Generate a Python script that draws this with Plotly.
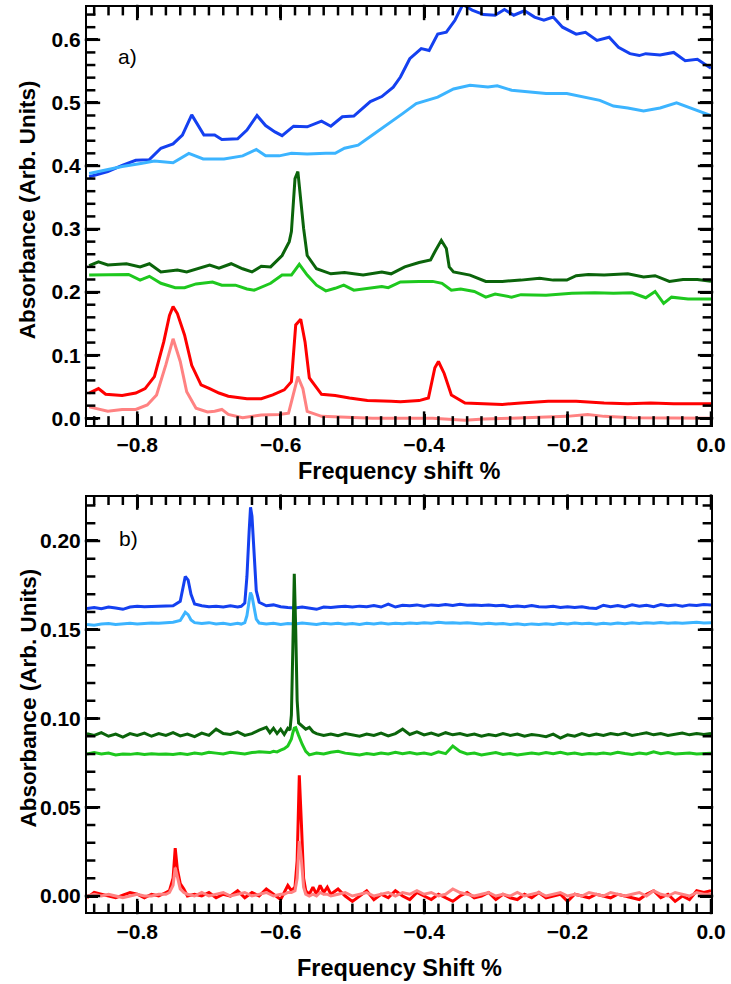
import plotly.graph_objects as go
from plotly.subplots import make_subplots

# ---------------- Panel a) data ----------------
xa_dblue = [-0.867,-0.841,-0.821,-0.802,-0.783,-0.767,-0.750,-0.737,-0.724,-0.707,-0.692,-0.682,-0.660,-0.647,-0.633,-0.621,-0.608,-0.598,-0.582,-0.563,-0.543,-0.530,-0.514,-0.498,-0.475,-0.459,-0.443,-0.433,-0.420,-0.404,-0.393,-0.381,-0.369,-0.357,-0.346,-0.333,-0.317,-0.301,-0.288,-0.275,-0.260,-0.246,-0.233,-0.220,-0.207,-0.188,-0.175,-0.159,-0.142,-0.129,-0.113,-0.100,-0.091,-0.071,-0.052,-0.036,-0.019,0.0]
ya_dblue = [0.383,0.391,0.401,0.409,0.410,0.428,0.435,0.449,0.481,0.449,0.449,0.442,0.443,0.457,0.480,0.464,0.454,0.448,0.463,0.462,0.471,0.463,0.478,0.479,0.502,0.510,0.525,0.541,0.570,0.586,0.583,0.609,0.612,0.631,0.656,0.647,0.640,0.639,0.648,0.639,0.646,0.636,0.631,0.636,0.620,0.609,0.612,0.599,0.604,0.588,0.578,0.575,0.578,0.576,0.580,0.567,0.569,0.555]

xa_lblue = [-0.867,-0.821,-0.795,-0.776,-0.750,-0.728,-0.708,-0.679,-0.653,-0.634,-0.621,-0.602,-0.585,-0.563,-0.537,-0.524,-0.511,-0.492,-0.472,-0.453,-0.430,-0.411,-0.381,-0.359,-0.336,-0.311,-0.298,-0.278,-0.252,-0.230,-0.201,-0.174,-0.155,-0.136,-0.116,-0.094,-0.071,-0.048,-0.026,0.0]
ya_lblue = [0.388,0.399,0.404,0.408,0.405,0.420,0.411,0.411,0.416,0.426,0.416,0.416,0.420,0.419,0.420,0.420,0.428,0.433,0.449,0.464,0.483,0.499,0.509,0.522,0.528,0.525,0.527,0.520,0.517,0.515,0.515,0.509,0.504,0.495,0.492,0.487,0.492,0.500,0.491,0.480]

xa_dgreen = [-0.867,-0.854,-0.841,-0.815,-0.796,-0.783,-0.767,-0.744,-0.731,-0.699,-0.686,-0.669,-0.653,-0.640,-0.627,-0.614,-0.598,-0.588,-0.585,-0.580,-0.576,-0.568,-0.563,-0.550,-0.530,-0.511,-0.485,-0.459,-0.446,-0.427,-0.407,-0.391,-0.385,-0.378,-0.376,-0.369,-0.365,-0.359,-0.336,-0.314,-0.291,-0.265,-0.239,-0.220,-0.201,-0.188,-0.171,-0.149,-0.136,-0.116,-0.094,-0.078,-0.058,-0.039,-0.019,0.0]
ya_dgreen = [0.242,0.248,0.243,0.245,0.240,0.245,0.232,0.235,0.232,0.243,0.238,0.245,0.237,0.232,0.241,0.240,0.258,0.280,0.296,0.380,0.391,0.301,0.258,0.237,0.229,0.231,0.227,0.232,0.229,0.240,0.247,0.251,0.264,0.277,0.282,0.269,0.240,0.232,0.227,0.217,0.217,0.219,0.222,0.219,0.219,0.226,0.228,0.227,0.228,0.229,0.224,0.226,0.217,0.220,0.220,0.217]

xa_lgreen = [-0.867,-0.828,-0.812,-0.796,-0.783,-0.767,-0.747,-0.734,-0.718,-0.695,-0.682,-0.663,-0.647,-0.637,-0.614,-0.598,-0.585,-0.574,-0.563,-0.550,-0.537,-0.524,-0.512,-0.498,-0.479,-0.459,-0.450,-0.433,-0.407,-0.388,-0.375,-0.362,-0.349,-0.330,-0.314,-0.301,-0.278,-0.265,-0.230,-0.194,-0.162,-0.136,-0.110,-0.091,-0.078,-0.066,-0.055,-0.032,0.0]
ya_lgreen = [0.227,0.228,0.228,0.219,0.225,0.214,0.207,0.207,0.213,0.216,0.211,0.211,0.205,0.203,0.214,0.227,0.227,0.244,0.227,0.211,0.202,0.206,0.211,0.203,0.206,0.209,0.207,0.216,0.217,0.217,0.214,0.203,0.205,0.201,0.192,0.197,0.192,0.196,0.195,0.198,0.199,0.198,0.199,0.191,0.201,0.182,0.192,0.189,0.189]

xa_red = [-0.867,-0.854,-0.844,-0.821,-0.802,-0.789,-0.776,-0.763,-0.755,-0.750,-0.744,-0.734,-0.724,-0.711,-0.699,-0.686,-0.673,-0.647,-0.627,-0.611,-0.595,-0.585,-0.579,-0.572,-0.566,-0.560,-0.543,-0.524,-0.504,-0.479,-0.446,-0.433,-0.407,-0.394,-0.385,-0.380,-0.372,-0.362,-0.343,-0.317,-0.291,-0.265,-0.227,-0.188,-0.149,-0.116,-0.084,-0.052,0.0]
ya_red = [0.040,0.047,0.038,0.036,0.040,0.047,0.066,0.121,0.163,0.177,0.166,0.132,0.084,0.053,0.047,0.040,0.035,0.031,0.031,0.037,0.045,0.058,0.148,0.157,0.121,0.064,0.038,0.036,0.032,0.028,0.027,0.026,0.028,0.032,0.080,0.090,0.071,0.037,0.024,0.023,0.022,0.024,0.027,0.027,0.024,0.023,0.024,0.023,0.023]

xa_pink = [-0.867,-0.841,-0.821,-0.802,-0.786,-0.773,-0.760,-0.750,-0.740,-0.731,-0.718,-0.702,-0.692,-0.682,-0.673,-0.653,-0.627,-0.602,-0.589,-0.582,-0.576,-0.569,-0.563,-0.543,-0.504,-0.472,-0.433,-0.388,-0.343,-0.317,-0.278,-0.227,-0.201,-0.172,-0.149,-0.110,-0.071,-0.032,0.0]
ya_pink = [0.018,0.011,0.014,0.014,0.021,0.037,0.085,0.126,0.090,0.042,0.016,0.010,0.011,0.014,0.006,0.001,0.005,0.006,0.008,0.042,0.066,0.047,0.011,0.003,0.001,0.000,0.000,0.000,-0.003,-0.001,0.000,0.002,0.003,0.006,0.003,0.001,0.001,0.001,0.000]

# ---------------- Panel b) data ----------------
xb_blue = [-0.87,-0.86,-0.85,-0.84,-0.83,-0.82,-0.81,-0.80,-0.79,-0.78,-0.77,-0.76,
           -0.75,-0.74,-0.737,-0.733,-0.729,-0.725,-0.72,-0.71,-0.70,-0.69,-0.68,-0.67,-0.66,
           -0.655,-0.65,-0.647,-0.644,-0.642,-0.640,-0.637,-0.634,
           -0.63,-0.62,-0.61,-0.60,-0.59,-0.58,-0.57,-0.56,-0.55,-0.54,
           -0.53,-0.52,-0.51,-0.50,-0.49,-0.48,-0.47,-0.46,-0.45,-0.44,
           -0.43,-0.42,-0.41,-0.40,-0.39,-0.38,-0.37,-0.36,-0.35,-0.34,
           -0.33,-0.32,-0.31,-0.30,-0.29,-0.28,-0.27,-0.26,-0.25,-0.24,
           -0.23,-0.22,-0.21,-0.20,-0.19,-0.18,-0.17,-0.16,-0.15,-0.14,
           -0.13,-0.12,-0.11,-0.10,-0.09,-0.08,-0.07,-0.06,-0.05,-0.04,
           -0.03,-0.02,-0.01,0.00]
yb_dblue = [0.1620,0.1625,0.1618,0.1628,0.1622,0.1615,0.1628,0.1632,0.1630,0.1631,0.1629,0.1632,
            0.1635,0.1660,0.1720,0.1800,0.1780,0.1700,0.1645,0.1635,0.1630,0.1632,0.1628,0.1635,0.1628,
            0.1632,0.1650,0.1800,0.2050,0.2190,0.2140,0.1900,0.1720,
            0.1655,0.1635,0.1640,0.1630,0.1625,0.1622,0.1628,0.1622,0.1615,0.1628,
            0.1625,0.1630,0.1632,0.1628,0.1633,0.1630,0.1637,0.1628,0.1645,0.1628,
            0.1638,0.1635,0.1640,0.1633,0.1640,0.1636,0.1642,0.1637,0.1643,0.1638,
            0.1640,0.1636,0.1640,0.1635,0.1638,0.1630,0.1634,0.1630,0.1636,0.1630,
            0.1628,0.1632,0.1625,0.1630,0.1626,0.1630,0.1622,0.1620,0.1638,0.1630,
            0.1636,0.1628,0.1640,0.1632,0.1638,0.1630,0.1642,0.1635,0.1640,0.1632,
            0.1640,0.1636,0.1642,0.1640]
yb_lblue = [0.1530,0.1525,0.1532,0.1535,0.1530,0.1533,0.1536,0.1532,0.1535,0.1538,0.1536,0.1540,
            0.1542,0.1552,0.1575,0.1598,0.1585,0.1555,0.1540,0.1535,0.1540,0.1532,0.1536,0.1530,0.1537,
            0.1532,0.1540,0.1580,0.1660,0.1710,0.1690,0.1620,0.1560,
            0.1538,0.1532,0.1536,0.1530,0.1535,0.1532,0.1538,0.1533,0.1530,0.1536,
            0.1532,0.1537,0.1531,0.1535,0.1530,0.1536,0.1533,0.1538,0.1532,0.1536,
            0.1534,0.1538,0.1535,0.1540,0.1536,0.1542,0.1538,0.1540,0.1536,0.1539,
            0.1535,0.1533,0.1537,0.1532,0.1535,0.1530,0.1534,0.1528,0.1533,0.1530,
            0.1534,0.1530,0.1536,0.1532,0.1538,0.1534,0.1537,0.1531,0.1536,0.1533,
            0.1538,0.1534,0.1539,0.1535,0.1540,0.1536,0.1541,0.1537,0.1540,0.1536,
            0.1540,0.1542,0.1538,0.1540]

xb_green = [-0.87,-0.86,-0.85,-0.84,-0.83,-0.82,-0.81,-0.80,-0.79,-0.78,-0.77,-0.76,-0.75,
            -0.74,-0.73,-0.72,-0.71,-0.70,-0.69,-0.68,-0.67,-0.66,-0.65,-0.64,-0.63,-0.62,
            -0.615,-0.61,-0.605,-0.60,-0.595,-0.59,-0.587,-0.585,-0.583,-0.581,-0.579,-0.577,-0.575,
            -0.57,-0.565,-0.56,-0.555,-0.55,
            -0.54,-0.53,-0.52,-0.51,-0.50,-0.49,-0.48,-0.47,-0.46,-0.45,
            -0.44,-0.43,-0.42,-0.41,-0.40,-0.39,-0.38,-0.37,-0.36,-0.35,
            -0.34,-0.33,-0.32,-0.31,-0.30,-0.29,-0.28,-0.27,-0.26,-0.25,
            -0.24,-0.23,-0.22,-0.21,-0.20,-0.19,-0.18,-0.17,-0.16,-0.15,
            -0.14,-0.13,-0.12,-0.11,-0.10,-0.09,-0.08,-0.07,-0.06,-0.05,
            -0.04,-0.03,-0.02,-0.01,0.00]
yb_dgreen = [0.0915,0.0905,0.0920,0.0900,0.0912,0.0895,0.0915,0.0905,0.0918,0.0900,0.0915,0.0905,0.0920,
             0.0902,0.0912,0.0898,0.0918,0.0905,0.0940,0.0915,0.0910,0.0925,0.0905,0.0915,0.0935,0.0950,
             0.0920,0.0945,0.0915,0.0940,0.0910,0.0945,0.0935,0.1020,0.1400,0.1815,0.1500,0.1100,0.0975,
             0.0955,0.0940,0.0950,0.0925,0.0915,
             0.0905,0.0912,0.0903,0.0915,0.0908,0.0900,0.0912,0.0905,0.0918,0.0902,
             0.0915,0.0940,0.0910,0.0925,0.0908,0.0918,0.0905,0.0920,0.0908,0.0915,
             0.0905,0.0912,0.0900,0.0910,0.0903,0.0915,0.0905,0.0912,0.0900,0.0910,
             0.0905,0.0898,0.0912,0.0890,0.0908,0.0900,0.0915,0.0903,0.0912,0.0905,
             0.0915,0.0908,0.0918,0.0905,0.0912,0.0920,0.0908,0.0915,0.0905,0.0912,
             0.0918,0.0908,0.0915,0.0910,0.0915]
yb_lgreen = [0.0800,0.0808,0.0800,0.0805,0.0795,0.0800,0.0798,0.0803,0.0797,0.0802,0.0798,0.0800,0.0797,
             0.0803,0.0797,0.0806,0.0800,0.0810,0.0805,0.0800,0.0810,0.0803,0.0800,0.0808,0.0812,0.0810,
             0.0808,0.0815,0.0812,0.0822,0.0830,0.0845,0.0865,0.0885,0.0920,0.0945,0.0948,0.0930,0.0905,
             0.0855,0.0815,0.0795,0.0800,0.0805,
             0.0800,0.0810,0.0815,0.0805,0.0800,0.0795,0.0803,0.0798,0.0806,0.0800,
             0.0810,0.0802,0.0808,0.0800,0.0805,0.0798,0.0812,0.0802,0.0845,0.0815,
             0.0800,0.0805,0.0795,0.0802,0.0808,0.0798,0.0803,0.0795,0.0800,0.0806,
             0.0800,0.0808,0.0802,0.0810,0.0800,0.0805,0.0798,0.0803,0.0800,0.0806,
             0.0800,0.0810,0.0803,0.0798,0.0806,0.0800,0.0812,0.0802,0.0808,0.0800,
             0.0803,0.0806,0.0800,0.0802,0.0805]

xb_red = [-0.87,-0.86,-0.85,-0.84,-0.83,-0.82,-0.81,-0.80,-0.79,-0.78,-0.77,-0.76,
          -0.755,-0.75,-0.747,-0.744,-0.74,-0.735,-0.73,
          -0.72,-0.71,-0.70,-0.69,-0.68,-0.67,-0.66,-0.65,-0.64,-0.63,-0.62,-0.61,-0.60,
          -0.595,-0.59,-0.585,-0.58,-0.577,-0.574,-0.571,-0.568,-0.565,-0.56,-0.555,-0.55,-0.545,-0.54,-0.535,-0.53,
          -0.52,-0.51,-0.50,-0.49,-0.48,-0.47,-0.46,-0.45,-0.44,-0.43,
          -0.42,-0.41,-0.40,-0.39,-0.38,-0.37,-0.36,-0.35,-0.34,-0.33,
          -0.32,-0.31,-0.30,-0.29,-0.28,-0.27,-0.26,-0.25,-0.24,-0.23,
          -0.22,-0.21,-0.20,-0.19,-0.18,-0.17,-0.16,-0.15,-0.14,-0.13,
          -0.12,-0.11,-0.10,-0.09,-0.08,-0.07,-0.06,-0.05,-0.04,-0.03,
          -0.02,-0.01,0.00]
yb_red = [-0.001,0.002,0.001,0.000,-0.001,0.0005,0.002,0.001,-0.001,0.001,0.000,0.002,
          0.003,0.010,0.027,0.015,0.007,0.004,0.000,
          0.001,0.000,0.002,-0.001,0.001,0.000,0.003,-0.001,0.002,0.000,0.004,0.001,-0.002,
          0.002,0.006,0.003,0.005,0.020,0.068,0.040,0.010,0.003,0.001,0.005,0.001,0.006,0.002,0.005,0.001,
          0.004,0.000,-0.003,0.000,0.003,-0.002,0.001,-0.001,0.003,0.000,
          -0.002,0.002,0.000,-0.002,0.001,-0.001,-0.003,0.000,0.002,-0.001,
          0.000,0.002,-0.002,0.001,-0.001,-0.002,0.001,-0.001,0.002,-0.001,
          0.000,0.001,-0.003,0.001,0.000,-0.001,0.001,0.000,-0.001,0.001,
          0.000,-0.001,-0.002,0.001,0.003,-0.001,0.001,-0.003,0.000,-0.002,
          0.003,0.002,0.003]
yb_pink = [0.000,0.001,0.000,0.001,0.000,-0.001,0.000,0.001,0.000,0.000,0.001,0.001,
           0.002,0.006,0.016,0.010,0.004,0.002,0.001,
           0.000,0.002,0.000,0.001,0.002,0.000,0.001,0.002,0.000,0.001,0.002,0.000,0.001,
           0.001,0.002,0.002,0.003,0.010,0.031,0.020,0.005,0.001,0.000,0.001,0.000,0.002,0.001,0.001,0.000,
           0.001,0.002,0.000,0.001,0.002,0.000,0.001,0.002,0.000,0.002,
           0.001,0.003,0.001,0.002,0.000,0.001,0.004,0.002,0.001,0.000,
           0.001,0.002,0.000,0.001,0.000,0.002,0.000,0.001,0.002,0.000,
           0.001,0.002,0.000,0.001,0.000,0.002,0.001,0.000,0.002,0.001,
           0.000,0.001,0.002,0.000,0.003,0.001,0.000,0.002,0.001,0.000,
           0.002,0.001,0.001]

# tick positions (axis styling)
x_major = [-0.8, -0.6, -0.4, -0.2, 0.0]
ya_major = [0.0, 0.1, 0.2, 0.3, 0.4, 0.5, 0.6]
yb_major = [0.0, 0.05, 0.10, 0.15, 0.20]
x_minor = [round(-0.86 + 0.02 * k, 2) for k in range(44)]
ya_minor = [round(0.02 * k, 2) for k in range(33)]
yb_minor = [round(0.01 * k, 2) for k in range(23)]

XRANGE = [-0.87, 0.0]
YA_RANGE = [-0.01, 0.652]
YB_RANGE = [-0.009, 0.225]
YA_DOMAIN = [0.5386, 1.0]
YB_DOMAIN = [0.0, 0.459]

C_DBLUE = "#1440f0"
C_LBLUE = "#3cb4ff"
C_DGREEN = "#0b640b"
C_LGREEN = "#1ec81e"
C_RED = "#ff0000"
C_PINK = "#ff8282"

FONT = "Liberation Sans"
LW = 3
TICK_W = 2.5
MAJ_LEN = 11
MIN_LEN = 7

W, H = 731, 984
ML, MR, MT, MB = 87, 17, 5, 72
PLOT_W = W - ML - MR
PLOT_H = H - MT - MB

fig = make_subplots(rows=2, cols=1)

panel_a = [(xa_dblue, ya_dblue, C_DBLUE), (xa_lblue, ya_lblue, C_LBLUE),
           (xa_dgreen, ya_dgreen, C_DGREEN), (xa_lgreen, ya_lgreen, C_LGREEN),
           (xa_red, ya_red, C_RED), (xa_pink, ya_pink, C_PINK)]
for xs, ys, c in panel_a:
    fig.add_trace(go.Scatter(x=xs, y=ys, mode="lines", line=dict(color=c, width=LW),
                             showlegend=False), row=1, col=1)

panel_b = [(xb_blue, yb_dblue, C_DBLUE), (xb_blue, yb_lblue, C_LBLUE),
           (xb_green, yb_dgreen, C_DGREEN), (xb_green, yb_lgreen, C_LGREEN),
           (xb_red, yb_red, C_RED), (xb_red, yb_pink, C_PINK)]
for xs, ys, c in panel_b:
    fig.add_trace(go.Scatter(x=xs, y=ys, mode="lines", line=dict(color=c, width=LW),
                             showlegend=False), row=2, col=1)

# tick marks on all four sides, drawn as line-shaped markers
def tick_traces(row, yrange, ydomain, ymaj, ymin):
    px_h = PLOT_H * (ydomain[1] - ydomain[0])
    y_per_px = (yrange[1] - yrange[0]) / px_h
    x_per_px = (XRANGE[1] - XRANGE[0]) / PLOT_W
    for positions, length in (([p for p in x_minor if p not in x_major], MIN_LEN), (x_major, MAJ_LEN)):
        off = length / 2 * y_per_px
        xs = positions + positions
        ys = [yrange[0] + off] * len(positions) + [yrange[1] - off] * len(positions)
        fig.add_trace(go.Scatter(x=xs, y=ys, mode="markers", cliponaxis=False, hoverinfo="skip",
                                 showlegend=False,
                                 marker=dict(symbol="line-ns", size=length, color="black",
                                             line=dict(color="black", width=TICK_W))),
                      row=row, col=1)
    majset = [round(m, 3) for m in ymaj]
    for positions, length in (([p for p in ymin if round(p, 3) not in majset], MIN_LEN), (ymaj, MAJ_LEN)):
        off = length / 2 * x_per_px
        ys = positions + positions
        xs = [XRANGE[0] + off] * len(positions) + [XRANGE[1] - off] * len(positions)
        fig.add_trace(go.Scatter(x=xs, y=ys, mode="markers", cliponaxis=False, hoverinfo="skip",
                                 showlegend=False,
                                 marker=dict(symbol="line-ew", size=length, color="black",
                                             line=dict(color="black", width=TICK_W))),
                      row=row, col=1)

tick_traces(1, YA_RANGE, YA_DOMAIN, ya_major, ya_minor)
tick_traces(2, YB_RANGE, YB_DOMAIN, yb_major, yb_minor)

tickfont = dict(family=FONT, size=21, color="black", weight="bold")
common = dict(showline=True, linecolor="black", linewidth=2, mirror="allticks",
              ticks="inside", ticklen=MAJ_LEN, tickwidth=TICK_W, tickcolor="black",
              showgrid=False, zeroline=False, tickfont=tickfont)

fig.update_xaxes(**common, range=XRANGE, tickvals=x_major, tickformat=".1f")
fig.update_yaxes(**common, row=1, col=1, domain=YA_DOMAIN, range=YA_RANGE,
                 tickvals=ya_major, tickformat=".1f")
fig.update_yaxes(**common, row=2, col=1, domain=YB_DOMAIN, range=YB_RANGE,
                 tickvals=yb_major, tickformat=".2f")

fig.update_layout(
    width=W, height=H,
    margin=dict(l=ML, r=MR, t=MT, b=MB),
    paper_bgcolor="white", plot_bgcolor="white",
)

title_font = dict(family=FONT, size=22.5, color="black", weight="bold")
xtitle_font = dict(family=FONT, size=23.5, color="black", weight="bold")
label_font = dict(family=FONT, size=21, color="black")
fig.add_annotation(text="Absorbance (Arb. Units)", textangle=-90, xref="paper", yref="paper",
                   x=-0.0941, y=0.7757, showarrow=False, font=title_font, xanchor="center", yanchor="middle")
fig.add_annotation(text="Absorbance (Arb. Units)", textangle=-90, xref="paper", yref="paper",
                   x=-0.0941, y=0.2363, showarrow=False, font=title_font, xanchor="center", yanchor="middle")
fig.add_annotation(text="Frequency shift %", xref="paper", yref="paper", x=0.5, y=0.4873,
                   showarrow=False, font=xtitle_font, xanchor="center", yanchor="middle")
fig.add_annotation(text="Frequency Shift %", xref="paper", yref="paper", x=0.5, y=-0.0617,
                   showarrow=False, font=xtitle_font, xanchor="center", yanchor="middle")
fig.add_annotation(text="a)", xref="paper", yref="paper", x=0.0463, y=0.9449,
                   showarrow=False, font=label_font, xanchor="left", yanchor="middle")
fig.add_annotation(text="b)", xref="paper", yref="paper", x=0.0478, y=0.4124,
                   showarrow=False, font=label_font, xanchor="left", yanchor="middle")

fig.write_html("out.html")
